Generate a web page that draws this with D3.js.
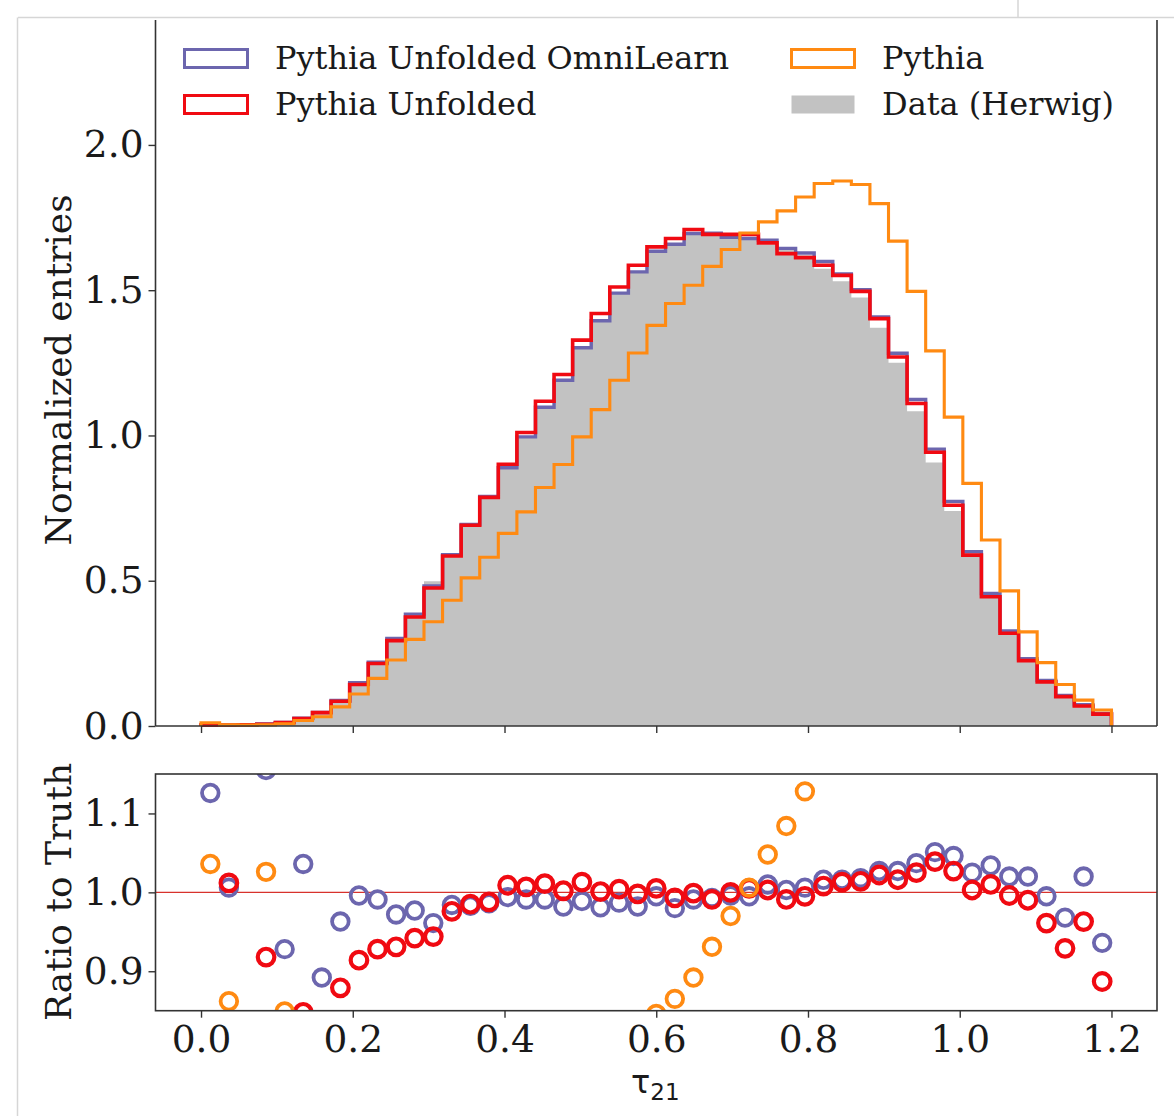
<!DOCTYPE html>
<html>
<head>
<meta charset="utf-8">
<style>
body { margin: 0; background: #fff; }
svg text { font-family: "DejaVu Serif", serif; fill: #1a1a1a; }
</style>
</head>
<body>
<svg width="1174" height="1116"></svg>
<script src="https://d3js.org/d3.v7.min.js"></script>
<script>

// 49 bins between 0 and 1.2
var binLo = 0, binHi = 1.2, nBins = 49;

// histogram heights (normalized entries)
var dataHerwig = [0.003, 0.003, 0.004, 0.0065, 0.012, 0.026, 0.046, 0.086, 0.146, 0.217,
  0.298, 0.382, 0.498, 0.586, 0.689, 0.785, 0.889, 0.995, 1.097, 1.190,
  1.302, 1.395, 1.490, 1.563, 1.634, 1.658, 1.695, 1.696, 1.682, 1.680,
  1.657, 1.641, 1.620, 1.574, 1.531, 1.475, 1.371, 1.250, 1.083, 0.907,
  0.740, 0.586, 0.441, 0.320, 0.227, 0.152, 0.101, 0.069, 0.041];
var unfoldedOmni = [0.004, 0.003, 0.004, 0.007, 0.012, 0.027, 0.047, 0.088, 0.149, 0.220,
  0.301, 0.385, 0.482, 0.590, 0.694, 0.790, 0.889, 0.995, 1.097, 1.190,
  1.302, 1.395, 1.490, 1.563, 1.634, 1.658, 1.695, 1.696, 1.682, 1.678,
  1.672, 1.644, 1.628, 1.599, 1.556, 1.502, 1.408, 1.283, 1.124, 0.953,
  0.773, 0.600, 0.456, 0.327, 0.232, 0.157, 0.105, 0.073, 0.043];
var unfolded = [0.003, 0.003, 0.004, 0.006, 0.012, 0.026, 0.046, 0.085, 0.143, 0.215,
  0.294, 0.375, 0.475, 0.585, 0.691, 0.787, 0.901, 1.010, 1.118, 1.210,
  1.328, 1.420, 1.511, 1.586, 1.649, 1.678, 1.709, 1.692, 1.692, 1.692,
  1.663, 1.626, 1.612, 1.586, 1.551, 1.496, 1.402, 1.270, 1.110, 0.942,
  0.760, 0.588, 0.445, 0.319, 0.225, 0.152, 0.101, 0.069, 0.041];
var pythia = [0.011, 0.004, 0.003, 0.004, 0.008, 0.019, 0.032, 0.066, 0.110, 0.164,
  0.227, 0.298, 0.359, 0.433, 0.510, 0.581, 0.663, 0.737, 0.821, 0.900,
  0.995, 1.089, 1.190, 1.284, 1.379, 1.454, 1.517, 1.582, 1.640, 1.697,
  1.735, 1.773, 1.821, 1.867, 1.876, 1.864, 1.798, 1.669, 1.496, 1.291,
  1.063, 0.835, 0.640, 0.465, 0.324, 0.218, 0.143, 0.089, 0.055];

// ratio to truth, null = outside the visible range
var ratioOmni = [1.126, 1.006, null, 1.155, 0.928, 1.036, 0.892, 0.963, 0.996, 0.991,
  0.972, 0.977, 0.961, 0.984, 0.983, 0.986, 0.994, 0.991, 0.991, 0.982,
  0.989, 0.981, 0.987, 0.982, 0.995, 0.980, 0.991, 0.993, 0.996, 0.995,
  1.010, 1.003, 1.006, 1.016, 1.016, 1.018, 1.027, 1.027, 1.037, 1.051,
  1.046, 1.025, 1.034, 1.020, 1.020, 0.995, 0.968, 1.020, 0.936];
var ratioUnfolded = [null, 1.012, null, 0.918, null, 0.848, null, 0.879, 0.914, 0.928,
  0.931, 0.942, 0.944, 0.976, 0.985, 0.988, 1.009, 1.007, 1.011, 1.002,
  1.013, 1.001, 1.004, 0.998, 1.005, 0.993, 0.999, 0.991, 1.000, 1.005,
  1.003, 0.991, 0.995, 1.008, 1.013, 1.014, 1.022, 1.016, 1.025, 1.039,
  1.027, 1.003, 1.010, 0.996, 0.990, 0.961, 0.929, 0.963, 0.887];
var ratioPythia = [1.036, 0.862, null, 1.026, 0.849, null, null, null, null, null,
  null, null, null, null, null, null, null, null, null, null,
  null, null, null, null, 0.846, 0.865, 0.892, 0.931, 0.970, 1.006,
  1.048, 1.084, 1.128, null, null, null, null, null, null, null,
  null, null, null, null, null, null, null, null, null];

var xTicks = [0, 0.2, 0.4, 0.6, 0.8, 1.0, 1.2];
var yTicksMain = [0, 0.5, 1.0, 1.5, 2.0];
var yTicksRatio = [0.9, 1.0, 1.1];

var cPurple = "#6c66ae", cRed = "#f00a12", cOrange = "#ff8a12", cGray = "#c2c2c2";

var svg = d3.select("svg");

var edges = d3.range(nBins + 1).map(function(i) { return binLo + i * (binHi - binLo) / nBins; });
var half = (binHi - binLo) / nBins / 2;

var left = 155.5, right = 1157;
var x = d3.scaleLinear().domain([-0.06, 1.26]).range([left, right]);
var y = d3.scaleLinear().domain([0, 2.43]).range([726, 20]);
var yr = d3.scaleLinear().domain([0.85, 1.15]).range([1010.7, 774]);

// screenshot frame
svg.append("line").attr("x1", 18).attr("x2", 1174).attr("y1", 17.5).attr("y2", 17.5)
    .attr("stroke", "#d6d6d6").attr("stroke-width", 1.5);
svg.append("line").attr("x1", 17.5).attr("x2", 17.5).attr("y1", 17.5).attr("y2", 1116)
    .attr("stroke", "#d6d6d6").attr("stroke-width", 1.5);
svg.append("line").attr("x1", 1018).attr("x2", 1018).attr("y1", 0).attr("y2", 17.5)
    .attr("stroke", "#d6d6d6").attr("stroke-width", 1.5);

// ---- main panel ----
function stepPts(vals) {
  var pts = [[edges[0], 0]];
  vals.forEach(function(v, i) { pts.push([edges[i], v]); });
  pts.push([edges[nBins], vals[nBins - 1]]);
  pts.push([edges[nBins], 0]);
  return pts;
}
var stepLine = d3.line()
    .x(function(d) { return x(d[0]); })
    .y(function(d) { return y(d[1]); })
    .curve(d3.curveStepAfter);

var fillPts = dataHerwig.map(function(v, i) { return [edges[i], v]; });
fillPts.push([edges[nBins], dataHerwig[nBins - 1]]);

svg.append("path")
    .datum(fillPts)
    .attr("fill", cGray)
    .attr("d", d3.area()
      .x(function(d) { return x(d[0]); })
      .y0(y(0))
      .y1(function(d) { return y(d[1]); })
      .curve(d3.curveStepAfter));

[[unfoldedOmni, cPurple, 3.4], [unfolded, cRed, 3.6], [pythia, cOrange, 3.1]].forEach(function(s) {
  svg.append("path")
      .datum(stepPts(s[0]))
      .attr("fill", "none")
      .attr("stroke", s[1])
      .attr("stroke-width", s[2])
      .attr("d", stepLine);
});

svg.append("g").attr("transform", "translate(" + left + ",0)")
    .call(d3.axisLeft(y).tickValues(yTicksMain).tickFormat(d3.format(".1f")).tickSize(7).tickPadding(5));
svg.append("g").attr("transform", "translate(0,726)")
    .call(d3.axisBottom(x).tickValues(xTicks).tickFormat("").tickSize(7));

// spines
svg.append("line").attr("x1", left).attr("x2", left).attr("y1", 20).attr("y2", 726);
svg.append("line").attr("x1", right).attr("x2", right).attr("y1", 20).attr("y2", 726);
svg.append("line").attr("x1", left).attr("x2", right).attr("y1", 726).attr("y2", 726);

// ---- ratio panel ----
svg.append("clipPath").attr("id", "rclip")
  .append("rect").attr("x", left).attr("y", yr(1.15)).attr("width", right - left).attr("height", yr(0.85) - yr(1.15));

var rg = svg.append("g").attr("clip-path", "url(#rclip)");
rg.append("line").attr("x1", left).attr("x2", right).attr("y1", yr(1)).attr("y2", yr(1))
    .attr("stroke", "#d8322c").attr("stroke-width", 1.3);

[[ratioOmni, cPurple, 3.8], [ratioUnfolded, cRed, 4.2], [ratioPythia, cOrange, 3.8]].forEach(function(s) {
  rg.selectAll(null)
    .data(s[0].map(function(v, i) { return {x: edges[i] + half, v: v}; }).filter(function(d) { return d.v !== null; }))
    .enter().append("circle")
      .attr("cx", function(d) { return x(d.x); })
      .attr("cy", function(d) { return yr(d.v); })
      .attr("r", 8.3)
      .attr("fill", "none")
      .attr("stroke", s[1])
      .attr("stroke-width", s[2]);
});

svg.append("g").attr("transform", "translate(" + left + ",0)")
    .call(d3.axisLeft(yr).tickValues(yTicksRatio).tickFormat(d3.format(".1f")).tickSize(7).tickPadding(5));
svg.append("g").attr("transform", "translate(0," + yr(0.85) + ")")
    .call(d3.axisBottom(x).tickValues(xTicks).tickFormat(d3.format(".1f")).tickSize(7).tickPadding(8));

svg.append("rect").attr("x", left).attr("y", yr(1.15)).attr("width", right - left).attr("height", yr(0.85) - yr(1.15))
    .attr("fill", "none");

svg.selectAll("g .domain").remove();
svg.selectAll(".tick line").attr("stroke", "#333").attr("stroke-width", 1.4);
svg.selectAll(".tick text").attr("font-size", 37.5).attr("font-family", "DejaVu Serif").attr("fill", "#1a1a1a");
svg.selectAll("svg > line:not([stroke])").attr("stroke", "#333").attr("stroke-width", 1.6);
svg.selectAll("svg > rect:not([stroke])").attr("stroke", "#333").attr("stroke-width", 1.6);

// axis titles
svg.append("text")
    .attr("transform", "translate(71,370) rotate(-90)")
    .attr("text-anchor", "middle")
    .attr("font-size", 36)
    .text("Normalized entries");
svg.append("text")
    .attr("transform", "translate(71,892) rotate(-90)")
    .attr("text-anchor", "middle")
    .attr("font-size", 36)
    .text("Ratio to Truth");

var xl = svg.append("text")
    .attr("x", 631).attr("y", 1093)
    .style("font-family", "DejaVu Sans")
    .attr("font-size", 32);
xl.append("tspan").text("τ");
xl.append("tspan").attr("font-size", 23).attr("dy", 7).text("21");

// legend
var legendItems = [
  {label: "Pythia Unfolded OmniLearn", color: cPurple, fill: false, x: 183, y: 48},
  {label: "Pythia Unfolded", color: cRed, fill: false, x: 183, y: 94},
  {label: "Pythia", color: cOrange, fill: false, x: 790, y: 48},
  {label: "Data (Herwig)", color: cGray, fill: true, x: 790, y: 94}
];
var lg = svg.append("g");
legendItems.forEach(function(d) {
  lg.append("rect")
      .attr("x", d.x + 1.5).attr("y", d.y + 1.5)
      .attr("width", 63).attr("height", 18)
      .attr("fill", d.fill ? d.color : "none")
      .attr("stroke", d.fill ? "none" : d.color)
      .attr("stroke-width", 3);
  lg.append("text")
      .attr("x", d.x + 92).attr("y", d.y + 21)
      .attr("font-size", 32)
      .text(d.label);
});

</script>
</body>
</html>
